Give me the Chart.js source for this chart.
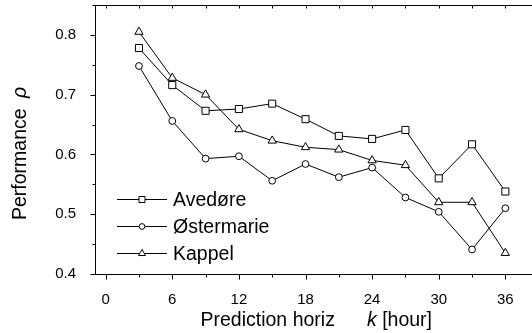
<!DOCTYPE html>
<html>
<head>
<meta charset="utf-8">
<script src="https://cdn.jsdelivr.net/npm/chart.js@4/dist/chart.umd.min.js"></script>
<style>
  body { margin: 0; background: #fff; }
  #wrap { width: 532px; height: 333px; }
</style>
</head>
<body>
<div id="wrap"><canvas id="chart"></canvas></div>
<script>
// dati
const hours = [3, 6, 9, 12, 15, 18, 21, 24, 27, 30, 33, 36];
const seriesNames = ['Avedøre', 'Østermarie', 'Kappel'];
const avedore = [0.778, 0.716, 0.673, 0.676, 0.685, 0.659, 0.631, 0.626, 0.641, 0.560, 0.617, 0.538];
const ostermarie = [0.748, 0.656, 0.593, 0.597, 0.556, 0.584, 0.562, 0.578, 0.528, 0.504, 0.441, 0.510];
const kappel = [0.805, 0.728, 0.700, 0.642, 0.623, 0.612, 0.608, 0.590, 0.582, 0.520, 0.520, 0.435];
const xTicks = [0, 6, 12, 18, 24, 30, 36];
const yTicks = [0.4, 0.5, 0.6, 0.7, 0.8];
const xTitle = ['Prediction horiz', 'k', ' [hour]'];
const yTitle = ['Performance', 'ρ'];

const FONT = "'Liberation Sans', Arial, sans-serif";
const styles = ['rect', 'circle', 'triangle'];
const radii = [5, 3.4, 4.8];

function makeSet(i, vals) {
  return {
    label: seriesNames[i],
    data: hours.map((h, j) => ({ x: h, y: vals[j] })),
    borderColor: '#000',
    borderWidth: 1,
    backgroundColor: '#fff',
    pointStyle: styles[i],
    pointRadius: radii[i],
    pointBackgroundColor: '#fff',
    pointBorderColor: '#000',
    pointBorderWidth: 1,
    tension: 0
  };
}

// assi, tacche, legenda e titoli
const decor = {
  id: 'decor',
  afterDatasetsDraw(chart) {
    const { ctx, chartArea: a } = chart;
    const xs = chart.scales.x, ys = chart.scales.y;
    ctx.save();
    ctx.strokeStyle = '#000';
    ctx.lineWidth = 1;
    ctx.beginPath();
    const bottom = Math.round(a.bottom) + 0.5;
    const top = Math.round(a.top) + 0.5;
    const left = Math.round(a.left) + 0.5;
    // linea superiore
    ctx.moveTo(a.left, top);
    ctx.lineTo(a.right, top);
    for (let i = 0; i < xTicks.length; i++) {
      const px = Math.round(xs.getPixelForValue(xTicks[i])) + 0.5;
      ctx.moveTo(px, bottom); ctx.lineTo(px, bottom + 5);
      ctx.moveTo(px, top); ctx.lineTo(px, top + 3);
      const pm = Math.round(xs.getPixelForValue(xTicks[i] + 3)) + 0.5;
      if (pm < a.right) {
        ctx.moveTo(pm, bottom); ctx.lineTo(pm, bottom + 3);
        ctx.moveTo(pm, top); ctx.lineTo(pm, top + 3);
      }
    }
    for (let i = 0; i < yTicks.length; i++) {
      const py = Math.round(ys.getPixelForValue(yTicks[i])) + 0.5;
      ctx.moveTo(left, py); ctx.lineTo(left - 5, py);
      const pm = Math.round(ys.getPixelForValue(yTicks[i] + 0.05)) + 0.5;
      ctx.moveTo(left, pm); ctx.lineTo(left - 3, pm);
    }
    ctx.stroke();

    // legenda
    chart.data.datasets.forEach((ds, i) => {
      const y = 199 + i * 27.2;
      ctx.beginPath();
      ctx.moveTo(117, Math.round(y) + 0.5);
      ctx.lineTo(167, Math.round(y) + 0.5);
      ctx.stroke();
      ctx.fillStyle = '#fff';
      Chart.helpers.drawPoint(ctx, {
        pointStyle: ds.pointStyle, radius: ds.pointRadius * 0.85, rotation: 0, borderWidth: 1
      }, 142, Math.round(y) + 0.5);
      ctx.fillStyle = '#000';
      ctx.font = '19.5px ' + FONT;
      ctx.textBaseline = 'alphabetic';
      ctx.textAlign = 'left';
      ctx.fillText(ds.label, 173, y + 6.5);
    });

    // titolo asse x
    ctx.fillStyle = '#000';
    ctx.font = '19.5px ' + FONT;
    ctx.fillText(xTitle[0], 200.5, 326);
    ctx.font = 'italic 19.5px ' + FONT;
    ctx.fillText(xTitle[1], 367, 326);
    const kw = ctx.measureText(xTitle[1]).width;
    ctx.font = '19.5px ' + FONT;
    ctx.fillText(xTitle[2], 367 + kw, 326);

    // titolo asse y
    ctx.translate(25.5, 220);
    ctx.rotate(-Math.PI / 2);
    ctx.fillText(yTitle[0], 0, 0);
    ctx.font = 'italic 19.5px ' + FONT;
    ctx.fillText(yTitle[1], 122, 0);
    ctx.restore();
  }
};

const config = {
  type: 'line',
  data: {
    datasets: [makeSet(0, avedore), makeSet(1, ostermarie), makeSet(2, kappel)]
  },
  options: {
    responsive: true,
    maintainAspectRatio: false,
    animation: false,
    layout: { autoPadding: false, padding: { top: 5, right: 0, left: 0, bottom: 0 } },
    plugins: { legend: { display: false }, tooltip: { enabled: false } },
    scales: {
      x: {
        type: 'linear',
        min: -0.96,
        max: 38.4,
        grid: { display: false },
        border: { display: true, color: '#000', width: 1 },
        ticks: {
          color: '#000', font: { family: FONT, size: 15 }, padding: 9,
          maxRotation: 0, autoSkip: false, callback: v => String(v)
        },
        afterBuildTicks(s) { s.ticks = xTicks.map(v => ({ value: v })); },
        afterFit(s) { s.height = 59; s.paddingLeft = 0; s.paddingRight = 0; }
      },
      y: {
        min: 0.4,
        max: 0.85,
        grid: { display: false },
        border: { display: true, color: '#000', width: 1 },
        ticks: {
          color: '#000', font: { family: FONT, size: 15 }, padding: 11,
          autoSkip: false, callback: v => v.toFixed(1)
        },
        afterBuildTicks(s) { s.ticks = yTicks.map(v => ({ value: v })); },
        afterFit(s) { s.width = 95; s.paddingTop = 0; s.paddingBottom = 0; }
      }
    }
  },
  plugins: [decor]
};

const ctx = document.getElementById('chart').getContext('2d');
const chart = new Chart(ctx, config);
</script>
</body>
</html>
